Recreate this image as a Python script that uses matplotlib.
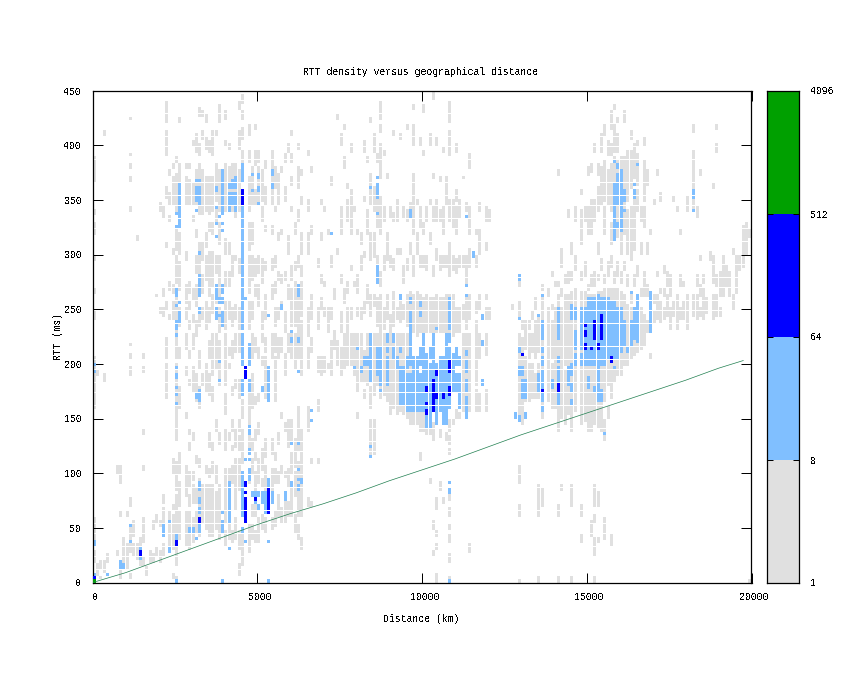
import matplotlib
matplotlib.use("Agg")
import matplotlib.pyplot as plt
from matplotlib.transforms import ScaledTranslation

plt.rcParams["font.family"] = ["Liberation Mono", "DejaVu Sans Mono"]
plt.rcParams["font.size"] = 7.15
plt.rcParams["text.antialiased"] = False

# vertical runs of density cells: (km, rtt_from, rtt_to)
gray_far_left = [
    (0,18,28),(0,40,58),(0,160,205),(0,240,248),(0,265,270),(0,295,300),(0,318,328),(0,338,342),(0,366,390),
    (100,8,16),(100,190,194),(200,14,20),(200,3,6),(300,10,20),(300,185,190),(300,410,414),(400,20,26),
    (700,26,30),(700,100,106),(800,4,20),(800,92,108),(800,60,66),(900,18,40),(1000,14,36),(1000,60,64),(1100,3,8),
    (1100,28,52),(1100,70,76),(1100,190,198),(1100,206,208),(1100,216,218),(1100,341,343),(1100,367,371),(1100,380,382),(1100,390,392),(1100,424,426),
    (1200,24,36),(1200,44,56),(1300,22,34),(1300,314,317),(1400,16,22),(1400,34,40),(1500,16,24),(1500,36,58),(1500,104,107),(1500,137,139),(1500,192,196),(1500,206,208),
    (1600,6,14),(1700,18,28),(1800,18,26),(1800,50,56),(1900,24,32),(1900,54,62),(1900,262,264),(2000,20,30),(2000,52,56),(2000,248,252),(2000,340,346),
    (2100,24,34),(2100,44,68),(2100,74,80),(2100,245,250),(2100,262,268),(2100,335,345),(2200,390,414),(2200,422,441),(2200,170,200),(2200,205,224),
    (2200,250,258),(2200,308,312),(2200,352,362),
]
gray_block_a = [
    (2300,34,56),(2300,58,66),(2300,240,246),(2300,268,275),(2300,330,336),(2300,345,355),(2300,372,376),
    (2400,4,8),(2400,30,62),(2400,66,72),(2400,100,112),(2400,240,256),(2400,266,272),(2400,300,304),(2400,345,372),(2400,380,384),
    (2500,3,6),(2500,16,34),(2500,45,80),(2500,84,110),(2500,130,160),(2500,165,200),(2500,205,226),(2500,230,262),(2500,275,300),(2500,304,324),(2500,340,375),(2500,386,390),
    (2600,40,66),(2600,70,92),(2600,100,120),(2600,160,180),(2600,205,214),(2600,234,252),(2600,268,292),(2600,300,320),(2600,345,382),(2600,420,424),
    (2800,34,64),(2800,80,106),(2800,150,156),(2800,190,198),(2800,215,228),(2800,240,250),(2800,255,272),(2800,295,303),(2800,345,372),(2800,380,384),
    (2900,32,64),(2900,70,80),(2900,88,100),(2900,120,128),(2900,136,140),(2900,180,186),(2900,205,212),(2900,232,240),(2900,250,258),(2900,264,274),(2900,345,368),(2900,378,384),
    (3000,38,60),(3000,72,90),(3000,94,100),(3000,130,136),(3000,175,196),(3000,214,226),(3000,238,245),(3000,260,268),(3000,330,336),(3000,345,365),(3000,400,404),
    (3100,45,64),(3100,72,86),(3100,110,116),(3100,165,190),(3100,225,240),(3100,252,272),(3100,282,300),(3100,315,324),(3100,345,376),(3100,395,410),
    (3200,42,72),(3200,78,96),(3200,105,112),(3200,160,178),(3200,195,212),(3200,235,252),(3200,265,300),(3200,302,312),(3200,336,384),(3200,392,400),(3200,428,434),
    (3300,54,90),(3300,180,190),(3300,240,250),(3300,265,282),(3300,295,310),(3300,338,376),(3300,405,412),(3300,426,432),
    (3400,50,90),(3400,100,106),(3400,175,200),(3400,232,256),(3400,276,298),(3400,306,320),(3400,340,372),(3400,398,408),(3400,420,428),
    (3500,44,88),(3500,96,104),(3500,125,136),(3500,172,190),(3500,205,220),(3500,238,252),(3500,262,302),(3500,322,330),(3500,338,372),(3500,395,404),
    (3600,44,90),(3600,100,110),(3600,120,128),(3600,165,178),(3600,190,226),(3600,246,262),(3600,272,302),(3600,318,330),(3600,340,372),(3600,392,412),
    (3700,48,82),(3700,90,108),(3700,140,150),(3700,196,226),(3700,255,272),(3700,282,300),(3700,330,342),(3700,348,384),(3700,410,414),
    (3800,40,90),(3800,128,136),(3800,180,222),(3800,230,252),(3800,262,298),(3800,310,330),(3800,340,378),(3800,420,438),
    (4000,34,46),(4000,56,104),(4000,120,140),(4000,155,172),(4000,182,226),(4000,232,256),(4000,272,284),(4000,300,314),(4000,340,384),(4000,400,404),(4000,425,430),
    (4100,40,62),(4100,66,104),(4100,130,136),(4100,195,200),(4100,208,214),(4100,240,256),(4100,270,285),(4100,300,310),(4100,340,380),(4100,396,400),
    (4200,38,48),(4200,92,108),(4200,120,126),(4200,140,148),(4200,172,178),(4200,206,222),(4200,236,252),(4200,280,300),(4200,340,382),
    (4300,40,60),(4300,66,112),(4300,125,140),(4300,178,184),(4300,212,226),(4300,240,254),(4300,295,300),(4300,335,345),(4300,350,384),
    (4400,6,16),(4400,30,46),(4400,86,112),(4400,120,135),(4400,140,150),(4400,170,185),(4400,210,226),(4400,232,252),(4400,282,296),(4400,340,376),(4400,398,412),(4400,432,440),
]
gray_block_b = [
    (4500,16,22),(4500,26,46),(4500,110,140),(4500,150,166),(4500,176,186),(4500,384,396),(4500,405,415),(4500,425,432),(4500,440,445),
    (4700,28,44),(4700,46,54),(4700,92,104),(4700,122,136),(4700,146,172),(4700,232,258),(4700,264,300),(4700,305,330),(4700,340,372),(4700,385,395),(4700,410,420),
    (4800,40,54),(4800,60,70),(4800,100,112),(4800,120,130),(4800,160,190),(4800,205,226),(4800,240,256),(4800,276,300),(4800,310,330),(4800,345,380),
    (4900,38,46),(4900,62,72),(4900,84,100),(4900,112,118),(4900,130,140),(4900,162,170),(4900,212,224),(4900,262,272),(4900,280,296),(4900,345,360),(4900,382,396),(4900,415,420),
    (5000,38,60),(5000,92,112),(5000,135,146),(5000,166,174),(5000,205,215),(5000,252,272),(5000,282,298),(5000,348,380),(5000,385,395),
    (5100,50,62),(5100,88,96),(5100,104,122),(5100,200,206),(5100,220,226),(5100,232,248),(5100,275,296),(5100,330,345),(5100,350,378),
    (5200,46,58),(5200,84,108),(5200,116,130),(5200,170,205),(5200,212,224),(5200,240,262),(5200,285,292),(5200,322,326),(5200,345,362),(5200,380,386),
    (5400,50,58),(5400,72,104),(5400,118,130),(5400,204,228),(5400,258,272),(5400,285,295),(5400,318,326),(5400,345,376),(5400,380,396),
    (5500,52,64),(5500,90,104),(5500,112,118),(5500,165,205),(5500,210,226),(5500,236,252),(5500,266,275),(5500,290,300),(5500,340,345),(5500,362,380),
    (5600,60,80),(5600,90,100),(5600,128,136),(5600,205,224),(5600,240,252),(5600,276,285),(5600,312,320),(5600,345,375),
    (5700,56,68),(5700,100,106),(5700,150,154),(5700,212,224),(5700,252,258),(5700,274,280),(5700,320,324),(5700,375,380),
    (5800,55,80),(5800,96,100),(5800,140,146),(5800,190,208),(5800,230,248),(5800,276,285),(5800,350,362),(5800,385,392),
    (5900,60,75),(5900,88,104),(5900,125,150),(5900,210,226),(5900,260,272),(5900,300,318),(5900,395,400),
    (6000,60,90),(6000,100,120),(6000,130,150),(6000,205,226),(6000,236,268),(6000,276,290),(6000,340,345),(6000,365,370),(6000,385,392),(6000,410,414),
    (6100,46,62),(6100,78,100),(6100,105,132),(6100,195,226),(6100,235,275),(6100,285,292),(6100,320,330),
    (6200,40,52),(6200,60,110),(6200,120,160),(6200,205,250),(6200,254,272),(6200,290,300),(6200,330,340),(6200,360,380),(6200,396,400),
    (6300,30,40),(6300,60,140),(6300,190,240),(6300,245,275),(6300,280,290),(6300,300,320),(6300,345,352),(6300,372,376),
    (6500,70,78),(6500,140,162),(6500,195,215),(6500,225,250),(6500,300,320),(6500,340,350),(6500,392,396),
    (6600,70,75),(6600,108,112),(6600,210,224),(6600,240,262),(6600,320,326),(6600,375,380),
    (6800,108,112),(6800,158,168),(6800,192,205),(6800,232,252),(6800,288,296),
    (6900,190,205),(6900,250,260),(6900,275,280),(6900,314,320),(6900,345,350),
    (7000,192,205),(7000,245,250),(7000,270,275),(7000,340,344),(7100,195,200),(7100,230,250),(7100,320,324),
    (7200,190,220),(7200,240,250),(7200,290,300),(7200,365,372),(7300,215,230),(7300,260,270),(7400,200,222),(7400,300,306),(7400,425,428),
    (7500,190,215),(7500,230,248),(7500,275,280),(7500,320,345),(7500,400,410),(7600,195,226),(7600,255,270),(7600,380,390),(7600,415,418),
    (7700,200,226),(7700,230,250),(7700,265,275),(7700,330,350),(7700,360,364),
    (7800,200,226),(7800,240,250),(7800,285,290),(7800,320,360),(7800,395,400),(7900,190,226),(7900,270,275),(7900,340,344),
]
gray_block_c = [
    (8000,150,154),(8000,176,226),(8000,245,252),(8000,265,280),(8000,318,322),(8100,184,226),(8100,240,250),(8100,285,300),(8100,310,320),
    (8200,170,175),(8200,184,212),(8200,246,258),(8200,298,302),(8200,350,354),(8200,395,405),(8300,180,226),(8300,255,272),(8300,320,340),(8300,384,390),
    (8400,115,150),(8400,160,180),(8400,190,226),(8400,245,262),(8400,295,320),(8400,345,375),(8400,420,424),
    (8500,118,150),(8500,172,226),(8500,254,262),(8500,298,320),(8500,340,362),(8500,395,410),
    (8600,180,196),(8600,205,226),(8600,235,260),(8600,275,300),(8600,325,350),(8600,385,392),
    (8700,170,226),(8700,230,262),(8700,270,285),(8700,320,352),(8700,370,400),(8700,412,418),(8700,425,440),
    (8800,172,226),(8800,232,252),(8800,285,300),(8800,330,345),(8800,392,396),(8900,165,226),(8900,240,262),(8900,295,320),(8900,370,375),
    (9000,155,226),(9000,230,245),(9000,290,300),(9000,335,345),(9100,160,226),(9100,236,265),(9100,285,295),(9100,330,338),(9100,410,414),
    (9200,155,190),(9200,192,226),(9200,240,250),(9200,300,306),(9200,330,350),(9300,158,226),(9300,238,262),(9300,300,306),(9300,406,410),
    (9400,155,226),(9400,242,255),(9400,275,290),(9400,335,345),(9500,150,226),(9500,235,262),(9500,285,295),(9500,330,340),(9500,415,418),
    (9600,145,226),(9600,232,265),(9600,300,312),(9600,340,346),(9700,146,158),(9700,228,262),(9700,280,300),(9700,320,375),(9700,400,420),(9700,432,436),
    (9800,146,160),(9800,225,265),(9800,300,320),(9800,345,350),(9900,112,118),(9900,140,158),(9900,228,262),(9900,290,300),(9900,324,345),(9900,400,406),
    (10000,140,156),(10000,228,260),(10000,290,300),(10000,320,330),(10000,392,396),(10000,430,436),
    (10100,136,146),(10100,230,262),(10100,285,300),(10100,330,345),(10200,92,96),(10200,135,150),(10200,228,260),(10200,310,320),(10200,345,350),(10200,400,410),
    (10300,50,56),(10300,24,28),(10300,130,145),(10300,228,260),(10300,280,290),(10300,330,345),(10300,370,374),(10300,442,448),
    (10400,2,8),(10400,30,36),(10400,44,48),(10400,66,76),(10400,228,262),(10400,295,305),(10400,330,350),(10400,400,406),
    (10500,84,92),(10500,132,140),(10500,228,260),(10500,285,300),(10500,330,340),(10500,366,370),
    (10600,72,78),(10600,228,260),(10600,290,300),(10600,320,345),(10600,395,398),
    (10700,130,136),(10700,230,262),(10700,290,300),(10700,345,370),
    (10800,0,6),(10800,20,26),(10800,38,45),(10800,50,54),(10800,62,68),(10800,76,80),(10800,118,122),(10800,128,135),(10800,140,148),(10800,228,262),(10800,280,312),(10800,330,350),(10800,392,412),(10800,420,440),
    (10900,145,150),(10900,226,262),(10900,285,300),(10900,325,350),(11000,150,158),(11000,228,250),(11000,284,296),(11000,320,345),(11000,350,360),(11000,395,400),
    (11100,150,156),(11100,228,250),(11100,290,300),(11100,335,350),(11200,158,226),(11200,240,255),(11200,290,300),(11200,370,372),
    (11300,150,156),(11300,162,226),(11300,232,262),(11300,275,300),(11300,340,346),
    (11400,28,34),(11400,156,226),(11400,240,262),(11400,290,306),(11400,320,345),(11400,380,392),
    (11600,158,176),(11600,182,240),(11600,246,258),(11600,290,300),(11600,318,322),
    (11700,158,172),(11700,205,226),(11700,250,262),(11700,300,322),(11700,340,346),
    (11900,158,176),(11900,208,226),(11900,240,252),(11900,260,262),(11900,305,310),(11900,330,345),(12000,240,250),(12000,330,340),
]
gray_right = [
    (12700,250,254),(12800,150,156),(12900,0,3),(12900,60,70),(12900,90,108),(12900,150,205),(12900,206,226),(12900,240,256),(12900,270,276),
    (13000,145,225),(13000,232,240),(13100,165,205),(13100,215,240),(13200,165,200),(13200,205,226),(13200,232,238),(13300,170,200),(13300,212,226),(13300,240,248),
    (13400,170,190),(13400,205,240),(13400,250,260),(13500,2,5),(13500,60,90),(13500,170,200),(13500,210,245),(13600,70,86),(13600,150,260),(13600,268,272),
    (13800,165,250),(13800,262,270),(13900,160,200),(13900,205,240),(13900,250,255),(13900,280,285),(14000,160,250),(14000,272,275),(14100,0,4),(14100,60,70),(14100,140,262),(14100,270,276),(14100,372,376),
    (14200,84,90),(14200,150,250),(14200,262,268),(14200,290,305),(14300,145,195),(14300,200,262),(14300,275,280),(14400,155,262),(14400,275,285),(14400,335,340),
    (14500,0,4),(14500,70,90),(14500,140,265),(14500,278,285),(14500,300,310),(14600,158,268),(14600,285,298),(14600,330,345),
    (14800,38,44),(14800,60,72),(14800,145,265),(14800,278,284),(14800,310,340),(14800,354,358),
    (14900,148,265),(14900,280,292),(14900,330,345),(15000,140,262),(15000,268,272),(15000,320,345),(15000,372,380),(15100,44,56),(15100,140,262),(15100,270,280),(15100,320,350),(15100,375,382),
    (15200,0,4),(15200,24,42),(15200,54,62),(15200,70,90),(15200,145,262),(15200,272,284),(15200,330,350),(15200,395,400),
    (15300,36,42),(15300,70,82),(15300,142,265),(15300,276,282),(15300,300,310),(15300,340,362),(15300,372,384),(15400,140,265),(15400,285,295),(15400,345,380),(15400,395,410),
    (15500,40,60),(15500,130,150),(15500,165,268),(15500,275,282),(15500,320,345),(15500,350,385),(15500,410,420),
    (15600,150,160),(15600,180,268),(15600,280,292),(15600,345,378),(15600,392,404),(15700,35,45),(15700,170,268),(15700,290,300),(15700,310,330),(15700,340,382),(15700,390,400),(15700,416,430),
    (15800,185,268),(15800,275,285),(15800,315,390),(15800,395,420),(15800,432,438),(15900,190,268),(15900,280,292),(15900,315,385),(15900,395,410),(15900,420,426),
    (16000,190,265),(16000,275,284),(16000,300,325),(16000,345,390),(16100,200,262),(16100,285,292),(16100,320,380),(16100,382,390),(16100,420,430),
    (16200,200,255),(16200,272,282),(16200,300,340),(16200,350,396),(16300,205,250),(16300,255,262),(16300,295,345),(16300,360,395),(16300,405,412),
    (16400,208,246),(16400,270,280),(16400,305,360),(16400,370,400),(16500,212,246),(16500,280,290),(16500,340,360),(16500,365,392),(16500,400,405),
    (16600,215,250),(16600,262,270),(16600,300,310),(16600,330,345),(16700,218,245),(16700,262,285),(16700,325,345),(16700,350,385),(16700,400,408),
    (16800,228,240),(16800,262,272),(16800,302,310),(16800,365,378),(16900,205,210),(16900,230,260),(16900,318,322),
    (17000,238,248),(17000,255,262),(17000,345,350),(17100,240,262),(17100,280,285),(17100,372,376),(17200,238,258),(17200,265,270),(17200,350,356),
    (17300,240,250),(17300,262,270),(17300,282,290),(17400,244,262),(17400,272,285),(17500,232,252),(17500,262,280),(17600,245,258),(17600,350,354),
    (17700,232,262),(17700,340,344),(17800,240,252),(17800,270,280),(17800,318,322),(17900,240,258),(17900,272,276),(18000,232,262),(18000,340,352),
    (18200,244,262),(18200,340,395),(18200,412,420),(18300,240,262),(18300,272,280),(18300,335,345),(18400,245,252),(18400,262,272),(18400,296,300),(18400,372,378),
    (18500,240,268),(18500,275,280),(18600,246,260),(18700,295,302),(18800,242,262),(18800,275,300),(18800,360,365),(18900,245,262),(18900,270,280),(18900,395,400),(18900,415,420),
    (19000,245,252),(19000,262,285),(19100,262,300),(19200,272,290),(19300,262,285),(19400,250,262),(19400,300,306),(19500,265,300),(19600,285,300),(19700,288,325),(19800,300,328),(19900,0,2),(19900,315,322),
]

light_left = [
    (0,3,8),(0,34,39),(0,193,195),(0,200,201),(400,6,8),(800,12,21),(900,12,17),(1100,51,53),(1100,37,39),(1400,30,33),(1400,21,24),
    (2100,43,53),(2300,54,57),(2300,27,33),(2500,34,45),(2500,0,2),(2500,163,165),(2500,171,174),(2500,178,180),(2500,188,190),(2500,196,197),(2500,225,226),
    (2500,231,239),(2500,252,254),(2500,262,264),(2500,266,269),(2500,324,327),(2500,336,339),(2600,237,238),(2600,240,248),(2600,255,258),(2600,324,365),
    (3100,350,363),(3100,367,369),(3100,339,342),(3200,262,272),(3200,345,350),(3200,367,369),(3200,350,363),(3200,169,177),(3100,169,172),(3200,165,168),
    (3200,84,93),(3200,73,76),(3200,63,69),(3200,45,54),(3100,40,42),(2900,46,50),(3000,46,50),(3200,248,251),(3200,273,275),(3200,278,281),(3200,300,303),
    (3700,240,251),(3700,258,260),(3700,262,272),(3700,315,318),(3700,327,330),(3700,342,345),(3700,358,363),(3800,243,245),(3800,256,259),(3800,333,335),(3800,184,186),(3800,202,204),
    (3900,234,240),(3900,240,248),(3900,256,260),(3900,265,272),(3900,321,323),(3900,327,330),(3900,336,365),(3900,367,369),(3900,371,377),(3900,45,53),(3900,54,57),(3900,63,66),(3900,0,3),
    (4100,54,61),(4100,63,72),(4100,74,83),(4100,86,92),(4100,30,32),(4100,339,345),(4100,345,357),(4100,360,365),(4200,345,357),(4200,360,365),(4200,367,369),(4300,339,345),(4300,345,357),(4300,360,367),(4300,369,371),
    (4500,46,51),(4500,60,86),(4500,86,101),(4500,172,186),(4500,199,217),(4500,218,226),(4500,231,338),(4500,338,345),(4500,367,378),(4500,380,382),
    (4600,36,38),(4600,111,113),(4600,258,260),(4700,95,104),(4700,111,113),(4700,117,122),(4700,136,144),(4700,174,186),(4700,199,219),(4800,78,83),(4800,358,360),(4800,372,374),
    (4900,72,83),(5000,68,72),(5000,78,83),(5000,358,363),(5000,345,348),(5000,370,374),(5100,174,178),(5100,72,83),(5200,64,70),(5200,72,83),
    (5300,36,38),(5300,165,168),(5300,169,177),(5300,178,188),(5300,190,197),(5300,243,245),(5300,0,3),(5300,87,95),(5400,72,83),(5400,360,365),(5400,372,377),
    (5700,251,253),(5800,75,83),(6000,88,93),(6000,127,129),(6000,220,223),(6000,228,230),(6200,86,90),(6200,94,96),(6200,102,104),(6200,127,129),(6200,193,195),(6200,220,223),(6200,262,272),(6300,92,96),(6600,148,150),(6600,157,159),(7200,318,320),
]
light_mid = [
    (7900,196,197),(8000,214,216),(8100,194,196),(8200,200,207),(8300,200,207),(8400,184,226),(8400,115,117),(8400,123,126),(8400,360,363),
    (8600,190,208),(8600,211,216),(8600,273,290),(8600,336,339),(8600,351,356),(8600,358,365),(8600,369,371),(8700,208,216),(8700,181,208),(8700,175,177),
    (8900,181,205),(8900,211,214),(8900,220,226),(9100,205,216),(9100,220,226),(9200,196,205),(9300,210,215),(9300,164,196),(9400,164,196),(9300,260,262),
    (9500,158,191),(9500,196,207),(9600,156,190),(9600,199,211),(9600,211,226),(9600,230,239),(9600,240,248),(9600,255,260),(9600,333,342),(9700,158,205),(9800,158,190),(9800,191,207),(9900,158,190),(9900,199,214),(9900,245,247),(9900,254,256),
    (10000,158,214),(10000,216,226),(10100,158,190),(10100,142,156),(10100,190,210),(10200,142,156),(10200,158,200),(10200,205,215),(10300,156,226),(10400,158,200),(10400,145,156),(10400,232,234),
    (10500,158,205),(10600,158,205),(10600,145,156),(10700,145,156),(10700,158,226),(10800,160,205),(10800,205,214),(10800,220,226),(10800,90,93),(10800,84,87),(10800,81,84),(10800,0,3),(10800,231,260),
    (10900,175,210),(11000,175,190),(11000,200,214),(11100,161,190),(11100,199,205),(11300,158,170),(11300,174,186),(11300,192,202),(11300,208,213),(11300,262,264),(11300,270,272),(11300,151,155),(11300,333,335),(11500,297,302),(11800,181,185),(11800,240,245),(11800,216,220),
]
light_right = [
    (12900,149,153),(12900,211,216),(12900,240,243),(12900,276,281),(12900,190,197),(13000,169,184),(13000,190,197),(13100,169,184),(12800,151,155),(13100,151,156),(13500,176,191),(13500,243,246),(13600,166,173),(13600,157,162),(13600,176,194),(13600,200,207),(13600,211,214),(13600,223,239),(13600,262,264),
    (13900,178,184),(14100,162,173),(14100,181,190),(14100,191,197),(14100,202,205),(14100,222,251),(14400,182,197),(14500,162,167),(14500,176,182),(14500,190,200),(14500,242,255),(14600,200,210),(14600,240,251),(14600,215,230),
    (14800,199,209),(14800,214,252),(14900,199,252),(15000,199,260),(15000,179,187),(15100,199,260),(15200,199,260),(15200,175,179),(15300,167,197),(15300,199,262),(15400,167,175),(15400,199,260),(15500,135,137),(15500,199,260),(15600,204,260),
    (15700,202,258),(15800,205,258),(15800,195,197),(15900,205,250),(16000,210,250),(16100,216,240),(16200,211,216),(16300,217,240),(16400,222,252),(16500,219,264),(15800,312,314),(15800,315,344),(15800,345,365),(15800,384,386),(15900,324,330),(15900,345,365),(15900,367,374),(15900,379,383),
    (16000,321,344),(16000,345,365),(16000,367,377),(16100,339,342),(16100,350,355),(16100,358,360),(16300,265,267),(16400,352,356),(16400,358,360),(16400,363,365),(16500,381,383),(18200,339,342),(18200,352,360),(16500,262,264),(16900,228,265),
]
dark_cells = [
    (0,3,6),(1400,24,30),(2500,34,39),(3200,56,58),(4500,345,360),(4600,187,196),(4600,87,92),(4600,81,84),(4600,73,78),(4600,62,72),(4600,54,62),(4900,75,78),(5300,83,87),(5300,72,83),(5300,64,71),
    (10100,163,165),(10100,176,178),(10100,155,158),(10300,156,163),(10300,163,170),(10300,172,184),(10400,170,172),(10600,170,172),(10800,193,196),(10800,198,204),(10800,172,178),(10400,190,193),
    (13000,208,209),(13600,174,177),(14100,174,177),(14100,178,181),(14900,214,217),(14900,234,237),(14900,227,231),(15100,214,216),(15200,223,230),(15200,232,240),(15300,214,219),(15400,223,240),(15400,242,244),(15700,203,205),
]
green_cells = [(0,0,3)]

line_km = [0, 1000, 2000, 3000, 4000, 5000, 6000, 7000, 8000, 9000, 10000, 11000, 12000, 13000, 14000, 15000, 16000, 17000, 18000, 19000, 19750]
line_rtt = [0, 9, 20, 31, 42, 53, 63, 72, 82, 93, 103, 113, 124, 135, 145, 155, 165, 175, 185, 196, 203]

color_bounds = [1, 8, 64, 512, 4096]
level_colors = ["#E0E0E0", "#80BFFF", "#0000FF", "#00A000"]
x_ticks = [0, 5000, 10000, 15000, 20000]
y_ticks = [0, 50, 100, 150, 200, 250, 300, 350, 400, 450]

W, H = 845, 673
KM_BIN, RTT_BIN = 100, 3


def bin_cells(runs):
    """Turn the vertical runs into a set of (km, rtt) histogram bins."""
    cells = set()
    for km, lo, hi in runs:
        start = lo - lo % RTT_BIN
        rtt = start
        while rtt < max(hi, start + 1):
            cells.add((km, rtt))
            rtt += RTT_BIN
    return cells


def draw_level(ax, runs, color, order):
    cells = sorted(bin_cells(runs))
    ax.bar([c[0] for c in cells], [RTT_BIN * 0.915] * len(cells), bottom=[c[1] for c in cells],
           width=KM_BIN * 0.911, align="edge", color=color, linewidth=0, antialiased=False, zorder=order)


fig = plt.figure(figsize=(W / 100, H / 100), dpi=100)
ax = fig.add_axes([92.7 / W, 1 - 582.5 / H, (751.5 - 92.7) / W, (582.5 - 90.5) / H])
draw_level(ax, gray_far_left + gray_block_a + gray_block_b + gray_block_c + gray_right, level_colors[0], 1)
draw_level(ax, light_left + light_mid + light_right, level_colors[1], 2)
draw_level(ax, dark_cells, level_colors[2], 3)
draw_level(ax, green_cells, level_colors[3], 4)
ax.plot(line_km, line_rtt, color="#1F7F4F", lw=0.5, zorder=5)

ax.set_xlim(0, 20000)
ax.set_ylim(0, 450)
ax.set_xticks(x_ticks)
ax.set_yticks(y_ticks)
ax.tick_params(direction="in", length=7.2, width=0.72, top=True, right=True, pad=7)
ax.tick_params(axis="y", pad=8)
for spine in ax.spines.values():
    spine.set_linewidth(0.9)
shift = ScaledTranslation(2.5 / 100, 0, fig.dpi_scale_trans)
for label in ax.get_xticklabels():
    label.set_transform(label.get_transform() + shift)

fig.text(421 / W, 1 - 72 / H, "RTT density versus geographical distance", ha="center", va="center")
fig.text(421 / W, 1 - 619 / H, "Distance (km)", ha="center", va="center")
fig.text(58 / W, 1 - 337 / H, "RTT (ms)", rotation=90, ha="center", va="center")

cax = fig.add_axes([767.5 / W, 1 - 582.5 / H, 32 / W, (582.5 - 90.5) / H])
cax.set_yscale("log", base=2)
for low, high, color in zip(color_bounds[:-1], color_bounds[1:], level_colors):
    cax.axhspan(low, high, color=color, linewidth=0)
cax.set_ylim(color_bounds[0], color_bounds[-1])
cax.set_xticks([])
cax.set_yticks(color_bounds)
cax.set_yticklabels([str(v) for v in color_bounds])
cax.minorticks_off()
cax.tick_params(axis="y", direction="in", length=4.5, width=0.72, left=True, right=True, labelleft=False, labelright=True, pad=8)
for spine in cax.spines.values():
    spine.set_linewidth(0.9)

fig.savefig("out.png", dpi=100)
